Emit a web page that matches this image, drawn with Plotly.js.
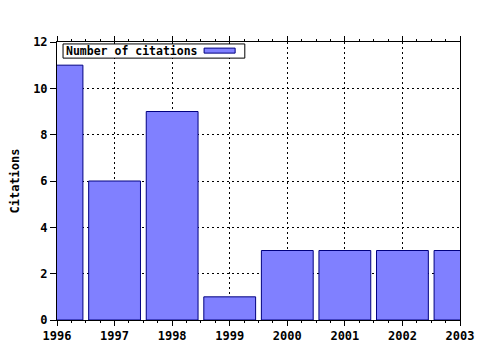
<!DOCTYPE html>
<html><head><meta charset="utf-8">
<script src="https://cdn.plot.ly/plotly-3.0.1.min.js"></script>
<style>html,body{margin:0;padding:0;background:#fff}#c{width:480px;height:350px}</style>
</head><body><div id="c"></div>
<script>
const years = [1996, 1997, 1998, 1999, 2000, 2001, 2002, 2003];
const citations = [11, 6, 9, 1, 3, 3, 3, 3];
const seriesName = 'Number of citations';
const yTitle = 'Citations';

const F = 'DejaVu Sans Mono, monospace';
const trace = {
  type: 'bar', x: years, y: citations, name: seriesName, width: 0.9,
  marker: {color: '#8080ff', line: {color: '#000080', width: 1}},
  showlegend: false, cliponaxis: true
};
const layout = {
  width: 480, height: 350,
  margin: {l: 57, r: 20, t: 42, b: 30},
  paper_bgcolor: '#fff', plot_bgcolor: '#fff',
  font: {family: F, size: 12, color: '#000', weight: 'bold'},
  xaxis: {
    range: [1996, 2003], tickmode: 'linear', tick0: 1996, dtick: 1,
    ticks: 'outside', ticklen: 5, tickcolor: '#000', showline: true, linecolor: '#000', linewidth: 1,
    mirror: 'ticks', showgrid: true, gridcolor: '#000', griddash: '2px,3px', gridwidth: 1,
    minor: {dtick: 0.25, ticks: 'outside', ticklen: 2, tickcolor: '#000', showgrid: false},
    zeroline: false, tickfont: {family: F, size: 12, weight: 'bold'}, fixedrange: true
  },
  yaxis: {
    range: [0, 12], tickmode: 'linear', dtick: 2, ticks: 'outside', ticklen: 6, tickcolor: '#000',
    showline: true, linecolor: '#000', linewidth: 1, mirror: true,
    showgrid: true, gridcolor: '#000', griddash: '2px,3px', gridwidth: 1, zeroline: false,
    tickfont: {family: F, size: 12, weight: 'bold'},
    title: {text: yTitle, font: {family: F, size: 12, weight: 'bold'}, standoff: 10}
  },
  shapes: [
    {type: 'rect', xref: 'paper', yref: 'paper', x0: 0.015, x1: 0.466, y0: 0.942, y1: 0.993,
     line: {color: '#000', width: 1}, fillcolor: '#fff', layer: 'above'},
    {type: 'rect', xref: 'paper', yref: 'paper', x0: 0.365, x1: 0.442, y0: 0.960, y1: 0.978,
     line: {color: '#000080', width: 1}, fillcolor: '#8080ff', layer: 'above'}
  ],
  annotations: [
    {xref: 'paper', yref: 'paper', x: 0.018, y: 0.968, xanchor: 'left', yanchor: 'middle',
     text: seriesName, showarrow: false, font: {family: F, size: 11.5, weight: 'bold', color: '#000'}}
  ]
};
Plotly.newPlot('c', [trace], layout, {displayModeBar: false, staticPlot: true});
</script></body></html>
